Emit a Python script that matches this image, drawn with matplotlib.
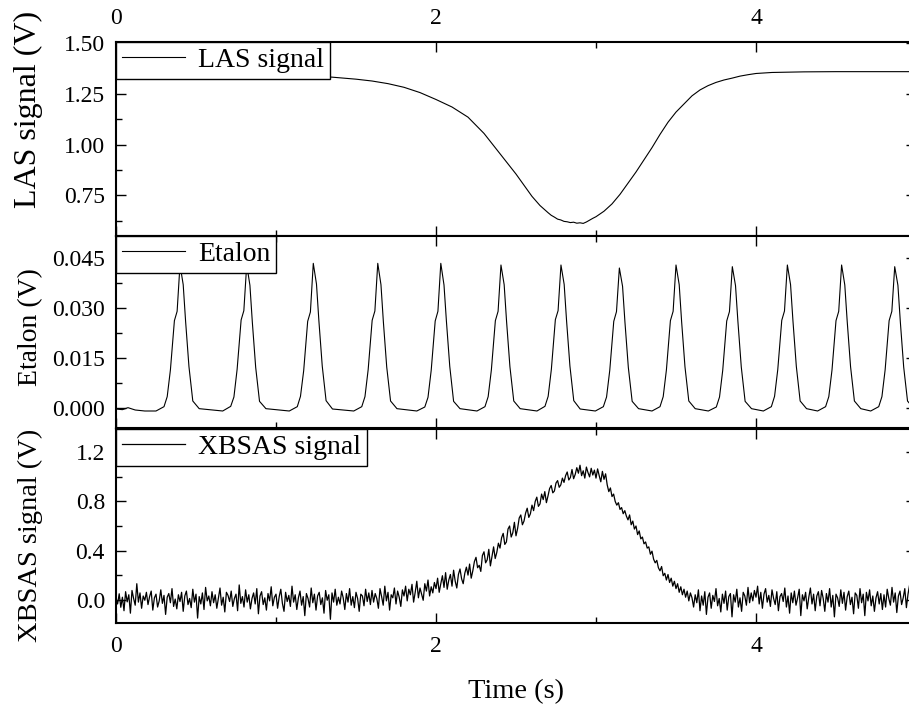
import numpy as np
import matplotlib
matplotlib.use("Agg")
import matplotlib.pyplot as plt
from matplotlib.ticker import MultipleLocator, FormatStrFormatter

# ---- LAS signal (V) ----
las_t = [0.00, 0.20, 0.40, 0.60, 0.80, 1.00, 1.20, 1.35, 1.50, 1.60, 1.70, 1.80,
         1.90, 2.00, 2.10, 2.20, 2.30, 2.40, 2.50, 2.60, 2.65, 2.70, 2.72, 2.74,
         2.76, 2.78, 2.80, 2.82, 2.84, 2.86, 2.88, 2.90, 2.92, 2.94, 2.96, 2.98,
         3.00, 3.05, 3.10, 3.15, 3.20, 3.25, 3.30, 3.35, 3.40, 3.45, 3.50, 3.55,
         3.60, 3.65, 3.70, 3.75, 3.80, 3.85, 3.90, 3.95, 4.00, 4.10, 4.30, 4.50,
         4.70, 5.00]
las_v = [1.350, 1.349, 1.348, 1.346, 1.344, 1.341, 1.337, 1.332, 1.322, 1.313, 1.300, 1.282,
         1.256, 1.222, 1.185, 1.135, 1.055, 0.955, 0.855, 0.745, 0.700, 0.665, 0.652, 0.643,
         0.633, 0.629, 0.622, 0.620, 0.616, 0.618, 0.613, 0.615, 0.612, 0.619, 0.628, 0.637,
         0.645, 0.672, 0.708, 0.755, 0.810, 0.865, 0.925, 0.985, 1.050, 1.110, 1.160, 1.200,
         1.240, 1.269, 1.290, 1.306, 1.318, 1.327, 1.337, 1.344, 1.350, 1.355, 1.358, 1.359,
         1.359, 1.359]

# ---- Etalon transmission (mV), one fringe per line ----
etalon_t = [0.000, 0.040, 0.075, 0.120, 0.180,
            0.250, 0.300, 0.320, 0.340, 0.365, 0.382, 0.400, 0.420, 0.435, 0.456, 0.480, 0.520,
            0.667, 0.717, 0.737, 0.757, 0.782, 0.799, 0.817, 0.837, 0.852, 0.873, 0.897, 0.937,
            1.083, 1.133, 1.153, 1.173, 1.198, 1.215, 1.233, 1.253, 1.268, 1.289, 1.313, 1.353,
            1.486, 1.536, 1.556, 1.576, 1.601, 1.618, 1.636, 1.656, 1.671, 1.692, 1.716, 1.756,
            1.880, 1.930, 1.950, 1.970, 1.995, 2.012, 2.030, 2.050, 2.065, 2.086, 2.110, 2.150,
            2.256, 2.306, 2.326, 2.346, 2.371, 2.388, 2.406, 2.426, 2.441, 2.462, 2.486, 2.526,
            2.631, 2.681, 2.701, 2.721, 2.746, 2.763, 2.781, 2.801, 2.816, 2.837, 2.861, 2.901,
            2.996, 3.046, 3.066, 3.086, 3.111, 3.128, 3.146, 3.166, 3.181, 3.202, 3.226, 3.266,
            3.350, 3.400, 3.420, 3.440, 3.465, 3.482, 3.500, 3.520, 3.535, 3.556, 3.580, 3.620,
            3.702, 3.752, 3.772, 3.792, 3.817, 3.834, 3.852, 3.872, 3.887, 3.908, 3.932, 3.972,
            4.046, 4.096, 4.116, 4.136, 4.161, 4.178, 4.196, 4.216, 4.231, 4.252, 4.276, 4.316,
            4.385, 4.435, 4.455, 4.475, 4.500, 4.517, 4.535, 4.555, 4.570, 4.591, 4.615, 4.655,
            4.717, 4.767, 4.787, 4.807, 4.832, 4.849, 4.867, 4.887, 4.902, 4.923, 4.947, 4.987,
            5.000]
etalon_mv = [-0.3, -0.5, 0.1, -0.6, -0.9,
             -0.9, 0.4, 3.4, 11.4, 26.2, 29.0, 43.0, 37.0, 26.0, 12.4, 2.1, -0.2,
             -0.9, 0.5, 3.3, 11.6, 26.4, 29.2, 43.0, 36.8, 25.8, 12.2, 2.0, -0.2,
             -0.9, 0.4, 3.5, 11.2, 26.0, 28.8, 43.4, 37.2, 26.2, 12.6, 2.2, -0.3,
             -0.9, 0.4, 3.4, 11.5, 26.3, 29.1, 43.4, 37.0, 25.9, 12.3, 2.1, -0.2,
             -0.9, 0.3, 3.2, 11.3, 26.1, 29.0, 43.4, 36.9, 26.1, 12.5, 2.0, -0.2,
             -0.9, 0.4, 3.4, 11.4, 26.2, 29.0, 42.9, 37.0, 26.0, 12.4, 2.1, -0.2,
             -0.9, 0.5, 3.5, 11.6, 26.5, 29.2, 42.9, 37.1, 26.2, 12.6, 2.2, -0.3,
             -0.9, 0.4, 3.3, 11.3, 26.0, 28.9, 42.0, 36.5, 25.7, 12.2, 2.0, -0.2,
             -0.9, 0.4, 3.4, 11.4, 26.2, 29.0, 42.9, 37.0, 26.0, 12.4, 2.1, -0.2,
             -0.9, 0.3, 3.3, 11.3, 26.1, 28.9, 42.4, 36.7, 25.9, 12.3, 2.0, -0.2,
             -0.9, 0.4, 3.5, 11.5, 26.3, 29.1, 42.9, 37.0, 26.1, 12.5, 2.1, -0.2,
             -0.9, 0.4, 3.4, 11.4, 26.2, 29.0, 42.9, 36.9, 26.0, 12.4, 2.1, -0.2,
             -0.9, 0.4, 3.4, 11.4, 26.2, 29.0, 42.4, 36.8, 25.9, 12.3, 2.1, -0.2,
             -0.4]

# ---- XBSAS signal (mV), sampled every 10 ms, 0.2 s per line ----
xbsas_dt = 0.01
xbsas_mv = [
    12, -35, 48, -62, 20, -90, 65, -18, 40, -110, 75, 10, -45, 130, -20, 55, -70, 30, -5, 60,
    -40, 25, 70, -85, 15, 45, -60, -10, 80, -30, 35, -120, 20, 50, -25, 90, -55, 5, -75, 40,
    -15, 60, -95, 30, 70, -40, 10, -65, 85, -20, 45, -150, 25, -35, 55, -80, 100, -10, 30, -50,
    65, -25, 40, -70, 15, 95, -45, 20, -100, 60, 35, -15, 70, -55, 10, 45, -90, 120, -30, 25,
    -60, 80, -20, 40, -75, 10, 55, -35, 90, -115, 30, 65, -40, 15, -85, 50, -10, 105, -50, 20,
    45, -70, 25, 85, -30, -95, 60, -15, 35, -55, 110, -20, 40, -80, 15, 70, -45, 25, -130, 50,
    10, -60, 95, -25, 45, -85, 30, 60, -40, 15, -110, 75, -5, 40, -160, 55, -20, 85, -45, 20,
    -35, 70, 15, -80, 50, -20, 90, -45, 25, -65, 60, 10, -95, 45, 30, -50, 85, -15, 55, -40,
    75, -20, 50, 10, -70, 90, 25, -45, 110, -10, 60, -85, 40, 15, 95, -35, 70, 20, -55, 80,
    30, 110, -10, 85, 40, 125, -20, 60, 150, 15, 95, 45, -5, 130, 70, 160, 30, 105, 55, 140,
    90, 175, 60, 130, 195, 100, 220, 85, 160, 205, 110, 240, 150, 95, 205, 250, 170, 130, 215, 265,
    200, 290, 175, 235, 310, 345, 260, 280, 230, 360, 390, 300, 325, 410, 275, 350, 430, 335, 385, 460,
    420, 505, 540, 450, 470, 575, 600, 510, 545, 630, 520, 580, 665, 690, 610, 640, 705, 745, 670, 700,
    770, 725, 800, 835, 760, 780, 860, 815, 880, 790, 845, 905, 930, 870, 885, 950, 970, 915, 935, 990,
    955, 1010, 1040, 975, 995, 1060, 985, 1020, 1075, 1030, 1095, 1010, 1050, 990, 1080, 1035, 1000, 1070, 1015, 1055,
    990, 1065, 1010, 960, 1045, 980, 1025, 935, 880, 910, 840, 860, 800, 770, 790, 735, 750, 700, 725, 680,
    650, 690, 610, 640, 575, 600, 530, 560, 495, 510, 455, 470, 420, 430, 370, 395, 330, 300, 320, 260,
    235, 270, 195, 215, 160, 205, 140, 175, 110, 150, 90, 130, 60, 105, 40, 85, 20, 70, -10, 55,
    15, -60, 40, -25, 80, -90, 30, -45, 65, -120, 20, 55, -70, 35, -15, 90, -50, 10, -100, 45,
    -30, 70, -85, 25, 50, -140, 40, -20, 85, -60, 15, -95, 60, 30, -45, 100, -25, 55, -10, 75,
    20, 110, -35, 60, -70, 45, 90, -20, 35, -55, 80, 10, -40, 65, -90, 25, 50, -15, 95, -60,
    30, -110, 55, -25, 70, -45, 15, 85, -130, 40, -10, 60, -75, 20, 95, -35, 45, -90, 30, 65,
    -50, 75, 10, -95, 50, -20, 90, -60, 35, -140, 45, 15, -55, 80, -30, 60, -85, 25, 70, -40,
    20, -115, 55, 35, -70, 90, -25, 45, -130, 60, -10, 80, -50, 30, -95, 15, 65, -35, 50, -80,
    40, -60, 85, 10, -45, 100, -20, 55, -105, 30, 70, -40, 15, 90, -65, 45, 120, -15, 75, 30,
]

xbsas_t = np.arange(len(xbsas_mv)) * xbsas_dt
etalon_v = np.array(etalon_mv) / 1000.0
xbsas_v = np.array(xbsas_mv) / 1000.0

plt.rcParams["font.family"] = ["Liberation Serif", "DejaVu Serif"]

W_PX, H_PX = 909, 708
fig = plt.figure(figsize=(W_PX / 100, H_PX / 100), dpi=100)

left = 116 / W_PX
width = 800 / W_PX
ax1 = fig.add_axes([left, 1 - 236 / H_PX, width, 194 / H_PX])
ax2 = fig.add_axes([left, 1 - 428 / H_PX, width, 192 / H_PX])
ax3 = fig.add_axes([left, 1 - 623 / H_PX, width, 194 / H_PX])

ax1.plot(las_t, las_v, color="black", lw=0.8, label="LAS signal")
ax2.plot(etalon_t, etalon_v, color="black", lw=0.8, label="Etalon")
ax3.plot(xbsas_t, xbsas_v, color="black", lw=0.9, label="XBSAS signal")

ax1.set_ylim(0.55, 1.505)
ax2.set_ylim(-0.006, 0.0516)
ax3.set_ylim(-0.19, 1.39)

ax1.yaxis.set_major_locator(MultipleLocator(0.25))
ax1.yaxis.set_minor_locator(MultipleLocator(0.125))
ax1.yaxis.set_major_formatter(FormatStrFormatter("%.2f"))
ax2.yaxis.set_major_locator(MultipleLocator(0.015))
ax2.yaxis.set_minor_locator(MultipleLocator(0.0075))
ax2.yaxis.set_major_formatter(FormatStrFormatter("%.3f"))
ax3.yaxis.set_major_locator(MultipleLocator(0.4))
ax3.yaxis.set_minor_locator(MultipleLocator(0.2))
ax3.yaxis.set_major_formatter(FormatStrFormatter("%.1f"))

# per-panel y label text, size and vertical position (axes fraction)
labels = [("LAS signal (V)", 23, 0.65),
          ("Etalon (V)", 20, 0.525),
          ("XBSAS signal (V)", 20.5, 0.45)]
for ax, (lab, fs, ypos) in zip((ax1, ax2, ax3), labels):
    ax.set_xlim(0, 5)
    ax.xaxis.set_major_locator(MultipleLocator(2))
    ax.xaxis.set_minor_locator(MultipleLocator(1))
    ax.xaxis.set_major_formatter(FormatStrFormatter("%d"))
    ax.tick_params(which="both", direction="in", top=True, right=True,
                   width=1.0, labelsize=17, pad=8)
    ax.tick_params(axis="x", which="both", pad=9)
    ax.tick_params(which="major", length=7.5)
    ax.tick_params(which="minor", length=4.5)
    for sp in ax.spines.values():
        sp.set_linewidth(1.5)
    ax.set_ylabel(lab, fontsize=fs)
    ax.yaxis.set_label_coords(-0.091, ypos)
    leg = ax.legend(loc="upper left", bbox_to_anchor=(0, 1), borderaxespad=0,
                    fancybox=False, edgecolor="black", framealpha=1, fontsize=20,
                    handlelength=2.3, handletextpad=0.45, borderpad=0.2)
    leg.get_frame().set_linewidth(1.0)

ax1.tick_params(axis="x", which="both", labeltop=True, labelbottom=False)
ax2.tick_params(axis="x", which="both", labeltop=False, labelbottom=False)
ax3.tick_params(axis="x", which="both", labeltop=False, labelbottom=True)

ax3.set_xlabel("Time (s)", fontsize=20.5)
ax3.xaxis.set_label_coords(0.5, -0.29)

fig.savefig("out.png", dpi=100)
